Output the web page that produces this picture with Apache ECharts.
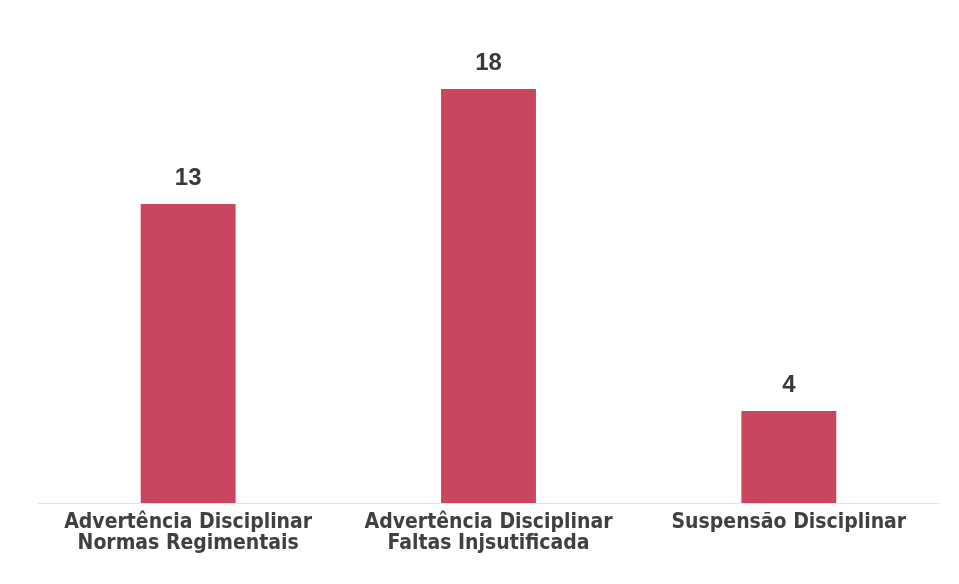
<!DOCTYPE html>
<html><head><meta charset="utf-8">
<script src="https://cdn.jsdelivr.net/npm/echarts@6/dist/echarts.min.js"></script>
<style>html,body{margin:0;padding:0;background:#fff}#c{width:959px;height:584px}</style>
</head><body><div id="c"></div>
<script>
const categories = ["Advertência Disciplinar\nNormas Regimentais", "Advertência Disciplinar\nFaltas Injsutificada", "Suspensão Disciplinar"];
const values = [13, 18, 4];
const chart = echarts.init(document.getElementById('c'), null, {renderer: 'canvas'});
chart.setOption({
  backgroundColor: '#ffffff',
  animation: false,
  grid: {left: 38, right: 20, top: 89, bottom: 81},
  xAxis: {
    type: 'category', data: categories,
    axisLine: {lineStyle: {color: '#e2e2e2', width: 1}},
    axisTick: {show: false},
    axisLabel: {interval: 0, hideOverlap: false, color: '#404040', fontFamily: '"DejaVu Sans Condensed", "Liberation Sans", Arial, sans-serif', fontWeight: 'bold', fontSize: 21, lineHeight: 21, margin: 9}
  },
  yAxis: {type: 'value', min: 0, max: 18, show: false, splitLine: {show: false}},
  series: [{
    type: 'bar', data: values, barWidth: '31.6%',
    itemStyle: {color: '#c9465f'},
    label: {show: true, position: 'top', distance: 14, color: '#3a3a3a', fontFamily: '"Liberation Sans", Arial, sans-serif', fontWeight: 'bold', fontSize: 24}
  }]
});
</script></body></html>
